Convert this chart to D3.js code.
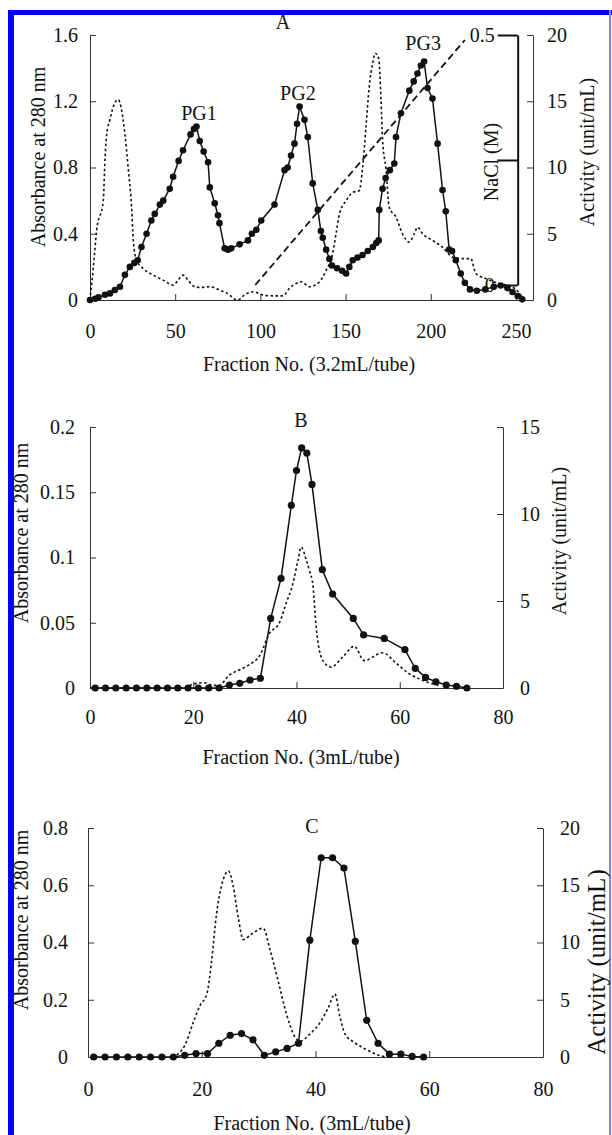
<!DOCTYPE html>
<html>
<head>
<meta charset="utf-8">
<script src="https://cdn.jsdelivr.net/npm/d3@7"></script>
<style>
  body { margin: 0; background: #fff; }
  svg { display: block; }
  text { font-family: "Liberation Serif", "Times New Roman", serif; fill: #111; }
</style>
</head>
<body>
<svg id="fig" width="612" height="1135"></svg>
<script>
// ---- Panel A (DEAE elution) ----
const fracA_act = [0, 3, 5, 8.8, 11.7, 14.6, 17.6, 20.5, 23.4, 26, 28, 30.2, 33.2, 36, 38, 41, 43, 46.8, 48.8, 52, 54.6, 59, 61, 62.5,
  64.4, 66.7, 69.3, 70.3, 73.2, 75.1, 76, 79, 81, 82.9, 87.8, 92.7, 95, 97.6, 100.5, 108.3, 114.2, 116, 118, 120, 121.5, 123,
  125.9, 127.8, 130.7, 133.7, 135.5, 136.6, 138.6, 140.5, 142, 145, 148, 150.3, 152.2, 154.2, 157, 160, 163, 166, 168, 169.4,
  169.8, 171.7, 173.5, 176, 178.6, 179.6, 182.5, 187.4, 190, 192.2, 194.2, 196.1, 198.1, 201, 204, 206.9, 208.8, 210.8, 212.5,
  214.7, 217.6, 220, 223, 227, 232, 237, 241, 245, 248, 251, 253.7];
const actA = [0, 0.1, 0.2, 0.4, 0.5, 0.75, 1.0, 1.9, 2.5, 2.8, 3.0, 4.0, 5.0, 6.0, 6.5, 7.2, 7.5, 8.4, 9.3, 10.5, 11.3, 12.5, 12.9, 13.1,
  12.0, 11.2, 10.4, 8.5, 7.3, 6.4, 5.8, 3.9, 3.8, 3.9, 4.2, 4.5, 5.0, 5.3, 6.0, 7.2, 9.8, 10.0, 10.9, 11.8, 13.3, 14.6,
  13.6, 12.3, 8.8, 6.8, 5.2, 4.7, 3.8, 3.1, 2.6, 2.4, 2.2, 2.0, 2.5, 3.0, 3.2, 3.4, 3.7, 4.0, 4.3, 4.5,
  6.8, 8.4, 9.2, 9.8, 10.3, 12.3, 14.1, 15.8, 16.5, 17.1, 17.7, 18.0, 16.0, 15.2, 11.8, 8.3, 6.7, 3.8, 3.7,
  3.0, 2.0, 1.3, 0.8, 0.7, 0.8, 1.0, 1.1, 0.9, 0.6, 0.3, 0.05];
const fracA_abs = [0, 2, 3.9, 7.8, 8.8, 9.8, 11.7, 14.6, 16.6, 18.5, 20.5, 22.4, 24.4, 25.4, 27.3, 31.2, 37.1, 42.9, 48.8, 51.7, 54.6,
  57.6, 60.5, 64.4, 70.3, 76.1, 82, 84.9, 86.8, 90.7, 95.6, 101.5, 107.3, 113.2, 117, 121, 124, 128.8, 134.7, 138.6, 142.4, 144.4,
  146.4, 150.3, 154.2, 158, 160, 162, 163.9, 165.9, 167.4, 169.4, 170.8, 171.7, 173.7, 175.6, 179.6, 183.4, 187.4, 190.3, 192.2,
  195.2, 201, 206.8, 212.7, 218.6, 223.5, 226.4, 232.2, 240, 247.8, 253.7];
const absA = [0, 0.2, 0.42, 0.6, 0.85, 1.0, 1.09, 1.19, 1.21, 1.15, 1.0, 0.8, 0.56, 0.36, 0.24, 0.19, 0.15, 0.12, 0.09, 0.12, 0.15,
  0.12, 0.085, 0.076, 0.08, 0.06, 0.03, 0.005, 0, 0.03, 0.05, 0.03, 0.025, 0.025, 0.07, 0.1, 0.11, 0.08, 0.11, 0.18, 0.28, 0.4,
  0.52, 0.6, 0.65, 0.66, 0.8, 1.05, 1.29, 1.43, 1.49, 1.46, 1.21, 0.97, 0.79, 0.56, 0.5, 0.4, 0.35, 0.4, 0.44,
  0.4, 0.36, 0.32, 0.26, 0.25, 0.25, 0.16, 0.13, 0.1, 0.08, 0.02];
const fracA_nacl = [97, 220];
const naclA = [0, 0.49];
const peakNames = ['PG1', 'PG2', 'PG3'];
const peakFrac = [64, 122, 195.5];
const peakAct = [13.6, 15.1, 18.9];

// ---- Panel B ----
const fracB_act = [1, 3, 5, 7, 9, 11, 13, 15, 17, 19, 21, 23, 25, 27, 29, 31, 33, 35, 37, 39, 40, 41, 42, 43, 45, 47, 51, 53, 57, 61,
  63, 65, 67, 69, 71, 73];
const actB = [0, 0, 0, 0, 0, 0, 0, 0, 0, 0, 0, 0, 0, 0.17, 0.27, 0.46, 0.56, 4.0, 6.3, 10.5, 12.5, 13.8, 13.5, 11.7, 6.8, 5.4, 4.0, 3.05,
  2.85, 2.2, 1.13, 0.61, 0.36, 0.17, 0.1, 0];
const fracB_abs = [0, 18, 20, 22, 24, 25, 27, 29, 30.9, 32.9, 34.8, 36.7, 38, 39.3, 40.3, 40.9, 41.9, 42.5, 43.2, 43.8, 45.1, 46.7,
  49, 51.2, 53.1, 56.7, 59.3, 61.8, 63.8, 65.7, 67.6];
const absB = [0, 0, 0.003, 0.004, 0.002, 0.002, 0.01, 0.014, 0.018, 0.025, 0.042, 0.05, 0.065, 0.08, 0.098, 0.108, 0.098, 0.09, 0.078,
  0.047, 0.021, 0.016, 0.024, 0.032, 0.021, 0.027, 0.019, 0.011, 0.007, 0.004, 0.002];

// ---- Panel C ----
const fracC_act = [1, 3, 5, 7, 9, 11, 13, 15, 17, 19, 21, 23, 25, 27, 29, 31, 33, 35, 37, 39, 41, 43, 45, 47, 49, 51, 53, 55, 57, 59];
const actC = [0, 0, 0, 0, 0, 0, 0, 0, 0.15, 0.3, 0.3, 1.2, 1.9, 2.05, 1.5, 0.15, 0.45, 0.75, 1.2, 10.2, 17.4, 17.4, 16.5, 10.1, 3.2,
  1.2, 0.25, 0.25, 0.05, 0];
const fracC_abs = [15.6, 17, 18.5, 19.7, 20.9, 21.7, 22.6, 23.5, 24.7, 25.5, 26.4, 27.3, 28.8, 30.8, 32, 33.5, 34.9, 36.4, 37.3, 39,
  40.8, 42.2, 43.4, 44.3, 45.2, 46.9, 49, 51, 52.4];
const absC = [0.007, 0.04, 0.12, 0.18, 0.22, 0.33, 0.5, 0.6, 0.65, 0.6, 0.49, 0.41, 0.43, 0.45, 0.375, 0.26, 0.15, 0.07, 0.055, 0.08,
  0.12, 0.17, 0.22, 0.14, 0.08, 0.05, 0.025, 0.007, 0];

const FS = 20;
const svg = d3.select('#fig');

// blue frame
svg.append('rect').attr('x', 8).attr('y', 10).attr('width', 6).attr('height', 1125).attr('fill', '#0000ff');
svg.append('rect').attr('x', 8).attr('y', 10).attr('width', 604).attr('height', 5).attr('fill', '#0000ff');
svg.append('rect').attr('x', 609).attr('y', 10).attr('width', 2).attr('height', 1125).attr('fill', '#8484f0');

function zip(xs, ys) {
  return xs.map((d, i) => ({ f: d, v: ys[i] }));
}

function styleAxis(sel) {
  sel.selectAll('path, line').attr('stroke', '#333').attr('stroke-width', 1);
  sel.selectAll('text').attr('font-size', FS).attr('font-family', '"Liberation Serif", serif').attr('fill', '#111');
}

function drawPanel(p) {
  const g = svg.append('g');
  const x = d3.scaleLinear().domain(p.xDomain).range([p.left, p.right]);
  const yAbs = d3.scaleLinear().domain(p.absDomain).range([p.bottom, p.top]);
  const yAct = d3.scaleLinear().domain(p.actDomain).range([p.bottom, p.top]);

  g.append('g')
    .attr('transform', `translate(0,${p.bottom})`)
    .call(d3.axisBottom(x).tickValues(p.xTicks).tickSize(-6).tickSizeOuter(0).tickPadding(p.xPad).tickFormat(d3.format('d')))
    .call(styleAxis);

  g.append('g')
    .attr('transform', `translate(${p.left},0)`)
    .call(d3.axisLeft(yAbs).tickValues(p.absTicks).tickSize(-6).tickSizeOuter(0).tickPadding(p.leftPad).tickFormat(d => String(d)))
    .call(styleAxis);

  g.append('g')
    .attr('transform', `translate(${p.right},0)`)
    .call(d3.axisRight(yAct).tickValues(p.actTicks).tickSize(-6).tickSizeOuter(0).tickPadding(p.rightPad))
    .call(styleAxis);

  // titles
  g.append('text').attr('x', p.xTitleX).attr('y', p.xTitleY)
    .attr('text-anchor', 'middle').attr('font-size', FS).text(p.xTitle);
  g.append('text').attr('transform', `translate(${p.leftTitleX},${p.leftTitleY}) rotate(-90)`)
    .attr('text-anchor', 'middle').attr('font-size', FS).text('Absorbance at 280 nm');
  g.append('text').attr('transform', `translate(${p.rightTitleX},${p.rightTitleY}) rotate(-90)`)
    .attr('text-anchor', 'middle').attr('font-size', p.rightTitleFS || FS).text('Activity (unit/mL)');
  g.append('text').attr('x', p.letterX).attr('y', p.letterY)
    .attr('text-anchor', 'middle').attr('font-size', FS).text(p.letter);

  // absorbance (dotted)
  g.append('path')
    .datum(zip(p.absF, p.absV))
    .attr('fill', 'none').attr('stroke', '#111').attr('stroke-width', 1.6)
    .attr('stroke-dasharray', '2.5,2.5')
    .attr('d', d3.line().x(d => x(d.f)).y(d => yAbs(d.v)).curve(d3.curveMonotoneX));

  // activity (solid with dots)
  const act = zip(p.actF, p.actV);
  g.append('path')
    .datum(act)
    .attr('fill', 'none').attr('stroke', '#111').attr('stroke-width', 1.5)
    .attr('d', d3.line().x(d => x(d.f)).y(d => yAct(d.v)));
  g.selectAll('circle.pt').data(act).join('circle')
    .attr('class', 'pt')
    .attr('cx', d => x(d.f)).attr('cy', d => yAct(d.v))
    .attr('r', p.dotR).attr('fill', '#111');

  return { g, x, yAbs, yAct };
}

// Panel A
const A = drawPanel({
  left: 90, right: 533, top: 35, bottom: 300,
  xDomain: [0, 260], xTicks: [0, 50, 100, 150, 200, 250], xPad: 24,
  absDomain: [0, 1.6], absTicks: [0, 0.4, 0.8, 1.2, 1.6], leftPad: 12,
  actDomain: [0, 20], actTicks: [0, 5, 10, 15, 20], rightPad: 14,
  xTitle: 'Fraction No. (3.2mL/tube)', xTitleX: 309, xTitleY: 371,
  leftTitleX: 45, leftTitleY: 157, rightTitleX: 594, rightTitleY: 152,
  letter: 'A', letterX: 283, letterY: 29,
  absF: fracA_abs, absV: absA, actF: fracA_act, actV: actA, dotR: 3.3
});

// NaCl gradient with its own axis
const yNaCl = d3.scaleLinear().domain([0, 0.5]).range([285, 35]);
A.g.append('path')
  .datum(zip(fracA_nacl, naclA))
  .attr('fill', 'none').attr('stroke', '#111').attr('stroke-width', 1.8)
  .attr('stroke-dasharray', '7,4')
  .attr('d', d3.line().x(d => A.x(d.f)).y(d => yNaCl(d.v)));

const naclAxis = A.g.append('g')
  .attr('transform', `translate(${A.x(251)},0)`)
  .call(d3.axisLeft(yNaCl).tickValues([0, 0.25, 0.5]).tickSize(20).tickSizeOuter(0).tickPadding(3)
    .tickFormat(d => d === 0.25 ? '' : String(d)));
naclAxis.selectAll('path, line').attr('stroke', '#111').attr('stroke-width', 2);
naclAxis.selectAll('text').attr('font-size', FS).attr('font-family', '"Liberation Serif", serif').attr('fill', '#111');

A.g.append('text').attr('transform', `translate(498,162) rotate(-90)`)
  .attr('text-anchor', 'middle').attr('font-size', FS).text('NaCl (M)');

A.g.selectAll('text.peak').data(peakNames).join('text')
  .attr('class', 'peak')
  .attr('x', (d, i) => A.x(peakFrac[i]))
  .attr('y', (d, i) => A.yAct(peakAct[i]))
  .attr('text-anchor', 'middle').attr('font-size', FS)
  .text(d => d);

// Panel B
drawPanel({
  left: 90, right: 503, top: 427, bottom: 688,
  xDomain: [0, 80], xTicks: [0, 20, 40, 60, 80], xPad: 22,
  absDomain: [0, 0.2], absTicks: [0, 0.05, 0.1, 0.15, 0.2], leftPad: 15,
  actDomain: [0, 15], actTicks: [0, 5, 10, 15], rightPad: 17,
  xTitle: 'Fraction No. (3mL/tube)', xTitleX: 301, xTitleY: 764,
  leftTitleX: 28, leftTitleY: 533, rightTitleX: 566, rightTitleY: 541,
  letter: 'B', letterX: 301, letterY: 427,
  absF: fracB_abs, absV: absB, actF: fracB_act, actV: actB, dotR: 3.6
});

// Panel C
drawPanel({
  left: 88, right: 543, top: 828, bottom: 1057,
  xDomain: [0, 80], xTicks: [0, 20, 40, 60, 80], xPad: 25,
  absDomain: [0, 0.8], absTicks: [0, 0.2, 0.4, 0.6, 0.8], leftPad: 20,
  actDomain: [0, 20], actTicks: [0, 5, 10, 15, 20], rightPad: 17,
  xTitle: 'Fraction No. (3mL/tube)', xTitleX: 312, xTitleY: 1130,
  leftTitleX: 28, leftTitleY: 920, rightTitleX: 605, rightTitleY: 962, rightTitleFS: 25,
  letter: 'C', letterX: 312, letterY: 833,
  absF: fracC_abs, absV: absC, actF: fracC_act, actV: actC, dotR: 3.6
});
</script>
</body>
</html>
